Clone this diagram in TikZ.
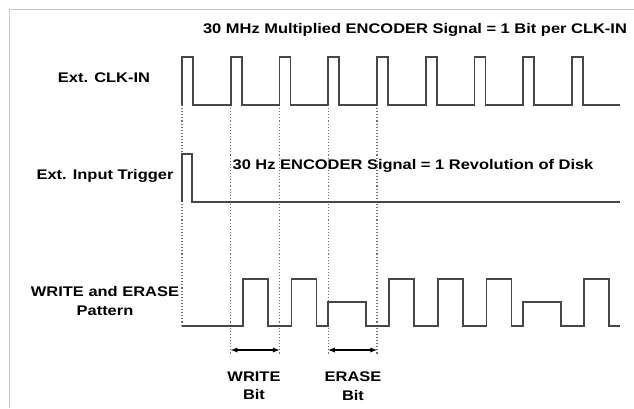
\documentclass[tikz,border=0pt]{standalone}
\usepackage{fontspec}
\setmainfont{Liberation Sans}
\usepackage{graphicx}
% chữ hơi giãn ngang như hình gốc
\newcommand{\wtxt}[1]{\scalebox{1.18}[1]{#1}}

\begin{document}
\begin{tikzpicture}[>=latex, x=1bp, y=-1bp,
    sig/.style={line width=1.6bp, draw=black!72},
    guide/.style={dotted, line width=1.1bp, draw=black!55},
    lbl/.style={font=\bfseries\fontsize{14}{18.5}\selectfont, inner sep=0pt, align=center}]
    \useasboundingbox (0,0) rectangle (634,408);

    % 1. Khung
    \draw[draw=black!22, line width=1.6bp] (9.5,408) -- (9.5,9.5) -- (634,9.5);

    % 2. Nhãn
    \node[lbl] (title) at (415,30) {\wtxt{30 MHz Multiplied ENCODER Signal = 1 Bit per CLK-IN}};
    \node[lbl] (clk) at (104,78) {\wtxt{Ext. CLK-IN}};
    \node[lbl] (trig) at (105,176) {\wtxt{Ext. Input Trigger}};
    \node[lbl] (enc) at (413,166) {\wtxt{30 Hz ENCODER Signal = 1 Revolution of Disk}};
    \node[lbl] (pat) at (105,301) {\wtxt{WRITE and ERASE}\\ \wtxt{Pattern}};
    \node[lbl] (wbit) at (254,386) {\wtxt{WRITE}\\ \wtxt{Bit}};
    \node[lbl] (ebit) at (353,386) {\wtxt{ERASE}\\ \wtxt{Bit}};

    % 3. Đường gióng nét chấm
    \draw[guide] (182,105) -- (182,326);
    \draw[guide] (230.75,105) -- (230.75,354);
    \draw[guide] (279.5,105) -- (279.5,354);
    \draw[guide] (328.25,105) -- (328.25,354);
    \draw[guide] (377,105) -- (377,354);

    % 4. Xung CLK-IN
    \draw[sig] (182,105) |- (193,57) |- (230.75,105) |- (241.75,57) |- (279.5,105)
        |- (290.5,57) |- (328.25,105) |- (339.25,57) |- (377,105)
        |- (388,57) |- (425.75,105) |- (436.75,57) |- (474.5,105)
        |- (485.5,57) |- (523.25,105) |- (534.25,57) |- (572,105)
        |- (583,57) |- (620,105);

    % 5. Xung kích ngoài
    \draw[sig] (182,202) |- (192,154) |- (620,202);

    % 6. Mẫu WRITE / ERASE
    \draw[sig] (182,326) -- (242.75,326) |- (267.75,279) |- (291.5,326) |- (316.5,279)
        |- (328.25,326) |- (366.25,302) |- (389,326) |- (414,279)
        |- (437.75,326) |- (462.75,279) |- (486.5,326) |- (511.5,279)
        |- (523.25,326) |- (561.25,302) |- (584,326) |- (609,279) |- (620,326);

    % 7. Mũi tên độ rộng bit
    \coordinate (w1) at (230.75,350);
    \coordinate (w2) at (279.5,350);
    \coordinate (e1) at (328.25,350);
    \coordinate (e2) at (377,350);
    \draw[<->, line width=1.3bp] (w1) -- (w2);
    \draw[<->, line width=1.3bp] (e1) -- (e2);
\end{tikzpicture}
\end{document}
